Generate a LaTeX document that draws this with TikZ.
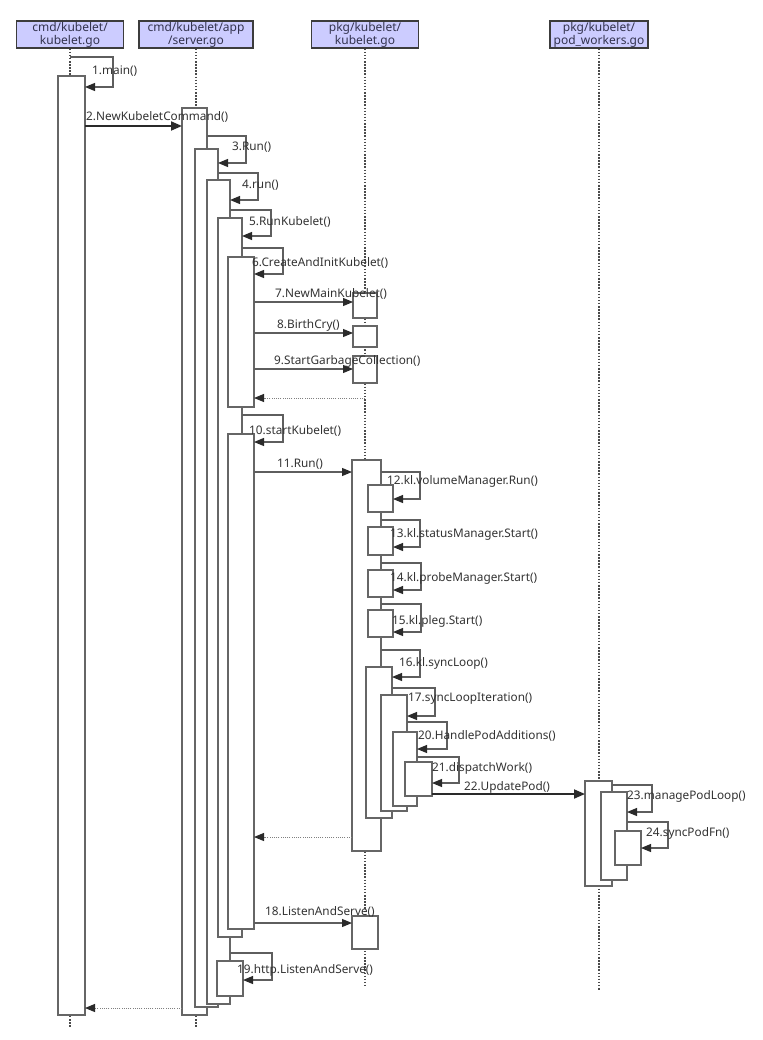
\documentclass[tikz,border=0pt]{standalone}
\usepackage{fontspec}
\setmainfont{Noto Sans}
\usetikzlibrary{arrows.meta}
\definecolor{hdrfill}{HTML}{CCCCFF}
\definecolor{hdrline}{HTML}{3C3C3C}
\definecolor{hdrtext}{HTML}{33334F}
\definecolor{actline}{HTML}{666666}
\definecolor{msgclr}{HTML}{5E5E5E}
\definecolor{tipclr}{HTML}{2A2A2A}
\definecolor{lifeclr}{HTML}{4A4A4A}
\definecolor{retclr}{HTML}{808080}
\definecolor{lblclr}{HTML}{333333}
\newcommand\actbox[5]{\node[act, minimum width={(#4-#2)*1pt}, minimum height={(#5-#3)*1pt}] (#1) at (#2,#3) {};}
\newcommand\selfc[5]{\draw[msg] (#1 |- 0,#2) -| (#3,#4) -- (#5.east |- 0,#4);}
\begin{document}
\begin{tikzpicture}[x=1pt,y=-1pt,
  hdr/.style={draw=hdrline, line width=1.4pt, fill=hdrfill, text=hdrtext, inner sep=0pt, align=center, font=\fontsize{12}{13}\selectfont},
  act/.style={draw=actline, line width=1.2pt, fill=white, inner sep=0pt, outer sep=0pt, anchor=north west},
  life/.style={draw=lifeclr, line width=1.6pt, dash pattern=on 1.5pt off 1.6pt},
  msg/.style={draw=msgclr, line width=1.1pt, -{Triangle[length=10pt,width=8pt,color=tipclr]}},
  msgb/.style={draw=tipclr, line width=1.8pt, -{Triangle[length=11pt,width=9pt,color=tipclr]}},
  ret/.style={draw=retclr, line width=1pt, dash pattern=on 1pt off 1.2pt, -{Triangle[length=10pt,width=8pt,color=tipclr]}},
  lbl/.style={anchor=west, inner sep=0pt, text=lblclr, font=\fontsize{11.8}{13}\selectfont}
]
\useasboundingbox (0,0) rectangle (762,1040);
\fill[white] (0,0) rectangle (762,1040);

% headers
\node[hdr, minimum width=107pt, minimum height=27pt] (h1) at (70,34.5) {cmd/kubelet/\\kubelet.go};
\node[hdr, minimum width=114pt, minimum height=27pt] (h2) at (196,34.5) {cmd/kubelet/app\\/server.go};
\node[hdr, minimum width=107pt, minimum height=27pt] (h3) at (365,34.5) {pkg/kubelet/\\kubelet.go};
\node[hdr, minimum width=98pt, minimum height=27pt] (h4) at (599,34.5) {pkg/kubelet/\\pod\_workers.go};

% lifelines
\coordinate (e1) at (70,1027);
\coordinate (e2) at (196,1027);
\coordinate (e3) at (365,986);
\coordinate (e4) at (599,990);
\draw[life] (h1.south) -- (e1);
\draw[life] (h2.south) -- (e2);
\draw[life] (h3.south) -- (e3);
\draw[life] (h4.south) -- (e4);

% activation boxes
\actbox{b1}{58}{76}{85}{1015}
\actbox{b2}{182}{108}{207}{1015}
\actbox{b3}{195}{149}{218}{1007}
\actbox{b4}{207}{180}{230}{1004}
\actbox{b5}{218}{218}{242}{937}
\actbox{b6}{228}{257}{254}{407}
\actbox{b10}{228}{434}{254}{929}
\actbox{b19}{217}{961}{243}{996}
\actbox{b7}{353}{293}{377}{318}
\actbox{b8}{353}{326}{377}{347}
\actbox{b9}{353}{356}{377}{383}
\actbox{b11}{352}{460}{381}{851}
\actbox{b12}{368}{485}{393}{512}
\actbox{b13}{368}{527}{393}{555}
\actbox{b14}{368}{570}{393}{597}
\actbox{b15}{368}{610}{393}{637}
\actbox{b16}{366}{667}{392}{818}
\actbox{b17}{381}{695}{407}{811}
\actbox{b20}{393}{732}{417}{806}
\actbox{b21}{405}{762}{432}{796}
\actbox{b18}{352}{916}{378}{949}
\actbox{b22}{585}{781}{612}{886}
\actbox{b23}{601}{792}{627}{880}
\actbox{b24}{615}{831}{641}{865}

% self calls
\selfc{h1.south}{57}{113}{87}{b1}
\selfc{b2.east}{136}{246}{163}{b3}
\selfc{b3.east}{173}{258}{200}{b4}
\selfc{b4.east}{210}{271}{236}{b5}
\selfc{b5.east}{248}{283}{274}{b6}
\selfc{b5.east}{415}{283}{442}{b10}
\selfc{b11.east}{472}{420}{499}{b12}
\selfc{b11.east}{520}{420}{547}{b13}
\selfc{b11.east}{563}{421}{590}{b14}
\selfc{b11.east}{604}{421}{632}{b15}
\selfc{b11.east}{650}{420}{677}{b16}
\selfc{b16.east}{688}{435}{716}{b17}
\selfc{b17.east}{722}{447}{749}{b20}
\selfc{b20.east}{757}{459}{783}{b21}
\selfc{b22.east}{785}{652}{812}{b23}
\selfc{b23.east}{822}{668}{848}{b24}
\selfc{b4.east}{953}{272}{980}{b19}

% messages
\draw[msgb] (b1.east |- 0,126) -- (b2.west |- 0,126);
\draw[msg] (b6.east |- 0,302) -- (b7.west |- 0,302);
\draw[msg] (b6.east |- 0,333) -- (b8.west |- 0,333);
\draw[msg] (b6.east |- 0,369) -- (b9.west |- 0,369);
\draw[msg] (b10.east |- 0,472) -- (b11.west |- 0,472);
\draw[msgb] (b21.east |- 0,794) -- (b22.west |- 0,794);
\draw[msg] (b10.east |- 0,923) -- (b18.west |- 0,923);

% returns
\draw[ret] (h3.south |- 0,398) -- (b6.east |- 0,398);
\draw[ret] (b11.west |- 0,837) -- (b10.east |- 0,837);
\draw[ret] (b2.west |- 0,1008) -- (b1.east |- 0,1008);

% labels
\node[lbl] (t1) at (92,71) {1.main()};
\node[lbl] (t2) at (86,117) {2.NewKubeletCommand()};
\node[lbl] (t3) at (232,147) {3.Run()};
\node[lbl] (t4) at (242,185) {4.run()};
\node[lbl] (t5) at (249,222) {5.RunKubelet()};
\node[lbl] (t6) at (252,263) {6.CreateAndInitKubelet()};
\node[lbl] (t7) at (275,294) {7.NewMainKubelet()};
\node[lbl] (t8) at (277,325) {8.BirthCry()};
\node[lbl] (t9) at (274,361) {9.StartGarbageCollection()};
\node[lbl] (t10) at (249,431) {10.startKubelet()};
\node[lbl] (t11) at (277,464) {11.Run()};
\node[lbl] (t12) at (387,481) {12.kl.volumeManager.Run()};
\node[lbl] (t13) at (390,534) {13.kl.statusManager.Start()};
\node[lbl] (t14) at (390,578) {14.kl.probeManager.Start()};
\node[lbl] (t15) at (392,621) {15.kl.pleg.Start()};
\node[lbl] (t16) at (399,663) {16.kl.syncLoop()};
\node[lbl] (t17) at (408,699) {17.syncLoopIteration()};
\node[lbl] (t20) at (418,736) {20.HandlePodAdditions()};
\node[lbl] (t21) at (432,768) {21.dispatchWork()};
\node[lbl] (t22) at (464,787) {22.UpdatePod()};
\node[lbl] (t23) at (627,796) {23.managePodLoop()};
\node[lbl] (t24) at (646,833) {24.syncPodFn()};
\node[lbl] (t18) at (265,912) {18.ListenAndServe()};
\node[lbl] (t19) at (237,970) {19.http.ListenAndServe()};
\end{tikzpicture}
\end{document}
